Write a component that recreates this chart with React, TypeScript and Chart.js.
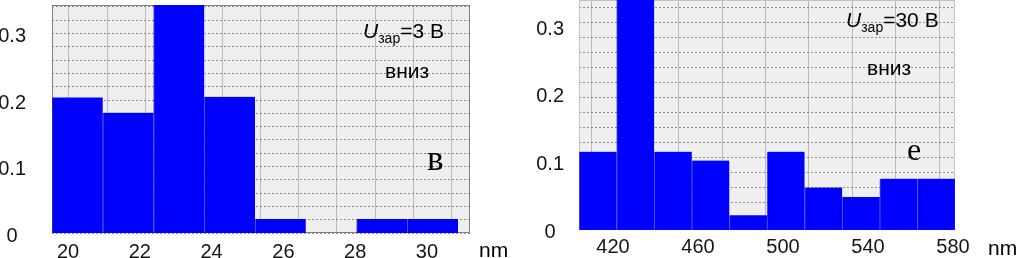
import React, { useEffect, useRef } from 'react';
import { Chart, registerables } from 'chart.js';

Chart.register(...registerables);

// ---- Panel "в" (U = 3 V, вниз) ----
const leftBinCenters = [20.261, 21.675, 23.089, 24.502, 25.916, 27.33, 28.744, 30.157];
const leftValues = [0.204, 0.181, 0.36, 0.205, 0.021, 0, 0.021, 0.021];
const leftXTicks = [20, 22, 24, 26, 28, 30];
const leftYTicks = [0, 0.1, 0.2, 0.3];

// ---- Panel "е" (U = 30 V, вниз) ----
const rightBinCenters = [412.85, 430.54, 448.23, 465.92, 483.61, 501.3, 518.99, 536.68, 554.37, 572.06];
const rightValues = [0.116, 0.36, 0.116, 0.103, 0.022, 0.116, 0.063, 0.049, 0.076, 0.076];
const rightXTicks = [420, 460, 500, 540, 580];
const rightYTicks = [0, 0.1, 0.2, 0.3];

const FONT = "'Liberation Sans', Arial, Helvetica, sans-serif";
const SERIF = "'Liberation Serif', 'Times New Roman', serif";

const plotBgPlugin = {
  id: 'plotBg',
  beforeDraw(chart: any, _args: any, opts: any) {
    const { ctx, chartArea: a } = chart;
    ctx.save();
    ctx.fillStyle = opts.color;
    ctx.fillRect(a.left, a.top, a.right - a.left, a.bottom - a.top);
    ctx.restore();
  },
  beforeDatasetsDraw(chart: any, _args: any, opts: any) {
    const { ctx, chartArea: a } = chart;
    ctx.save();
    ctx.strokeStyle = opts.frame;
    ctx.lineWidth = 1;
    ctx.strokeRect(a.left + 0.5, a.top + 0.5, a.right - a.left - 1, a.bottom - a.top - 1);
    ctx.restore();
  },
};

function gridTicks(s: any) {
  const t: { value: number }[] = [];
  for (let v = Math.ceil(s.min - 1e-9); v <= s.max + 1e-9; v++) t.push({ value: v });
  s.ticks = t;
}

function noPad(s: any) {
  s.paddingTop = 0;
  s.paddingBottom = 0;
  s.paddingLeft = 0;
  s.paddingRight = 0;
}

type HistProps = {
  left: number;
  centers: number[];
  values: number[];
  xTicks: number[];
  yTicks: number[];
  xMin: number;
  xMax: number;
  yMax: number;
  gx: [number, number];
  gy: [number, number];
  padding: { left: number; right: number; top: number; bottom: number };
  yWidth: number;
  xHeight: number;
  yPad: number;
  yLabelOffset: number;
  xPad: number;
  frame: string;
};

function Histogram(p: HistProps) {
  const ref = useRef<HTMLCanvasElement>(null);
  useEffect(() => {
    const chart = new Chart(ref.current as HTMLCanvasElement, {
      type: 'bar',
      data: {
        datasets: [
          {
            data: p.centers.map((x, i) => ({ x, y: p.values[i] })),
            backgroundColor: '#0000ff',
            borderColor: 'rgba(0,0,140,0.55)',
            borderWidth: { left: 1, right: 0, top: 0, bottom: 0 },
            borderSkipped: false,
            barPercentage: 1,
            categoryPercentage: 1,
            clip: 0,
            xAxisID: 'x',
            yAxisID: 'y',
          } as any,
        ],
      },
      options: {
        responsive: false,
        animation: false,
        devicePixelRatio: 1,
        layout: { padding: p.padding },
        plugins: {
          legend: { display: false },
          tooltip: { enabled: false },
          plotBg: { color: '#efefef', frame: p.frame },
        } as any,
        scales: {
          x: {
            type: 'linear',
            min: p.xMin,
            max: p.xMax,
            bounds: 'data',
            offset: false,
            grid: { display: false, drawTicks: false },
            border: { display: false },
            ticks: {
              autoSkip: false,
              maxRotation: 0,
              padding: p.xPad,
              color: '#151515',
              font: { size: 20, family: FONT },
              callback: (v: any) => String(v),
            },
            afterBuildTicks: (s: any) => {
              s.ticks = p.xTicks.map((value) => ({ value }));
            },
            afterFit: (s: any) => {
              s.height = p.xHeight;
              noPad(s);
            },
          },
          y: {
            type: 'linear',
            min: 0,
            max: p.yMax,
            bounds: 'data',
            grid: { display: false, drawTicks: false },
            border: { display: false },
            ticks: {
              autoSkip: false,
              padding: p.yPad,
              labelOffset: p.yLabelOffset,
              crossAlign: 'center',
              color: '#151515',
              font: { size: 20, family: FONT },
              callback: (v: any) => (Number(v) === 0 ? '0' : Number(v).toFixed(1)),
            },
            afterBuildTicks: (s: any) => {
              s.ticks = p.yTicks.map((value) => ({ value }));
            },
            afterFit: (s: any) => {
              s.width = p.yWidth;
              noPad(s);
            },
          },
          xg: {
            type: 'linear',
            position: 'bottom',
            min: p.gx[0],
            max: p.gx[1],
            bounds: 'data',
            offset: false,
            grid: { display: true, drawTicks: false, color: 'rgba(150,150,150,0.6)', lineWidth: 1 },
            border: { display: false },
            ticks: { display: false },
            afterBuildTicks: gridTicks,
            afterFit: (s: any) => {
              s.height = 0;
              noPad(s);
            },
          },
          yg: {
            type: 'linear',
            position: 'left',
            min: p.gy[0],
            max: p.gy[1],
            bounds: 'data',
            grid: { display: true, drawTicks: false, color: 'rgba(110,110,110,0.75)', lineWidth: 1 },
            border: { display: false, dash: [2, 2] },
            ticks: { display: false },
            afterBuildTicks: gridTicks,
            afterFit: (s: any) => {
              s.width = 0;
              noPad(s);
            },
          },
        } as any,
      },
      plugins: [plotBgPlugin as any],
    });
    return () => chart.destroy();
  }, []);
  return (
    <canvas
      ref={ref}
      width={508}
      height={258}
      style={{ position: 'absolute', left: p.left, top: 0, width: 508, height: 258 }}
    />
  );
}

function Label(props: { x: number; y: number; size: number; family?: string; children: React.ReactNode }) {
  return (
    <div
      style={{
        position: 'absolute',
        left: props.x,
        top: props.y,
        fontSize: props.size,
        fontFamily: props.family || FONT,
        lineHeight: 1,
        whiteSpace: 'nowrap',
        color: '#000',
      }}
    >
      {props.children}
    </div>
  );
}

export default function App() {
  const sub = { fontSize: 14, position: 'relative' as const, top: 5 };
  return (
    <div style={{ position: 'relative', width: 1016, height: 258, overflow: 'hidden', background: '#fff' }}>
      <style>{'body{margin:0;}'}</style>
      <Histogram
        left={0}
        centers={leftBinCenters}
        values={leftValues}
        xTicks={leftXTicks}
        yTicks={leftYTicks}
        xMin={19.554}
        xMax={31.198}
        yMax={0.343}
        gx={[-0.94, 9.974]}
        gy={[0, 17.143]}
        padding={{ left: 0, right: 38, top: 5, bottom: 0 }}
        yWidth={52}
        xHeight={25}
        yPad={26}
        yLabelOffset={3}
        xPad={7}
        frame="#808080"
      />
      <Histogram
        left={508}
        centers={rightBinCenters}
        values={rightValues}
        xTicks={rightXTicks}
        yTicks={rightYTicks}
        xMin={404}
        xMax={580.94}
        yMax={0.3407}
        gx={[-0.797, 7.866]}
        gy={[0.18, 15.513]}
        padding={{ left: 0, right: 61, top: 0, bottom: 0 }}
        yWidth={71}
        xHeight={28}
        yPad={15}
        yLabelOffset={2}
        xPad={5}
        frame="#c4c4c4"
      />
      <Label x={363} y={20} size={21}>
        <i>U</i>
        <span style={sub}>зар</span>=3 В
      </Label>
      <Label x={385} y={60} size={21}>вниз</Label>
      <Label x={427} y={141} size={35} family={SERIF}>в</Label>
      <Label x={479} y={239} size={21}>nm</Label>

      <Label x={846} y={9} size={21}>
        <i>U</i>
        <span style={sub}>зар</span>=30 В
      </Label>
      <Label x={867} y={57} size={21}>вниз</Label>
      <Label x={907} y={133} size={32} family={SERIF}>е</Label>
      <Label x={988} y={237} size={21}>nm</Label>
    </div>
  );
}
